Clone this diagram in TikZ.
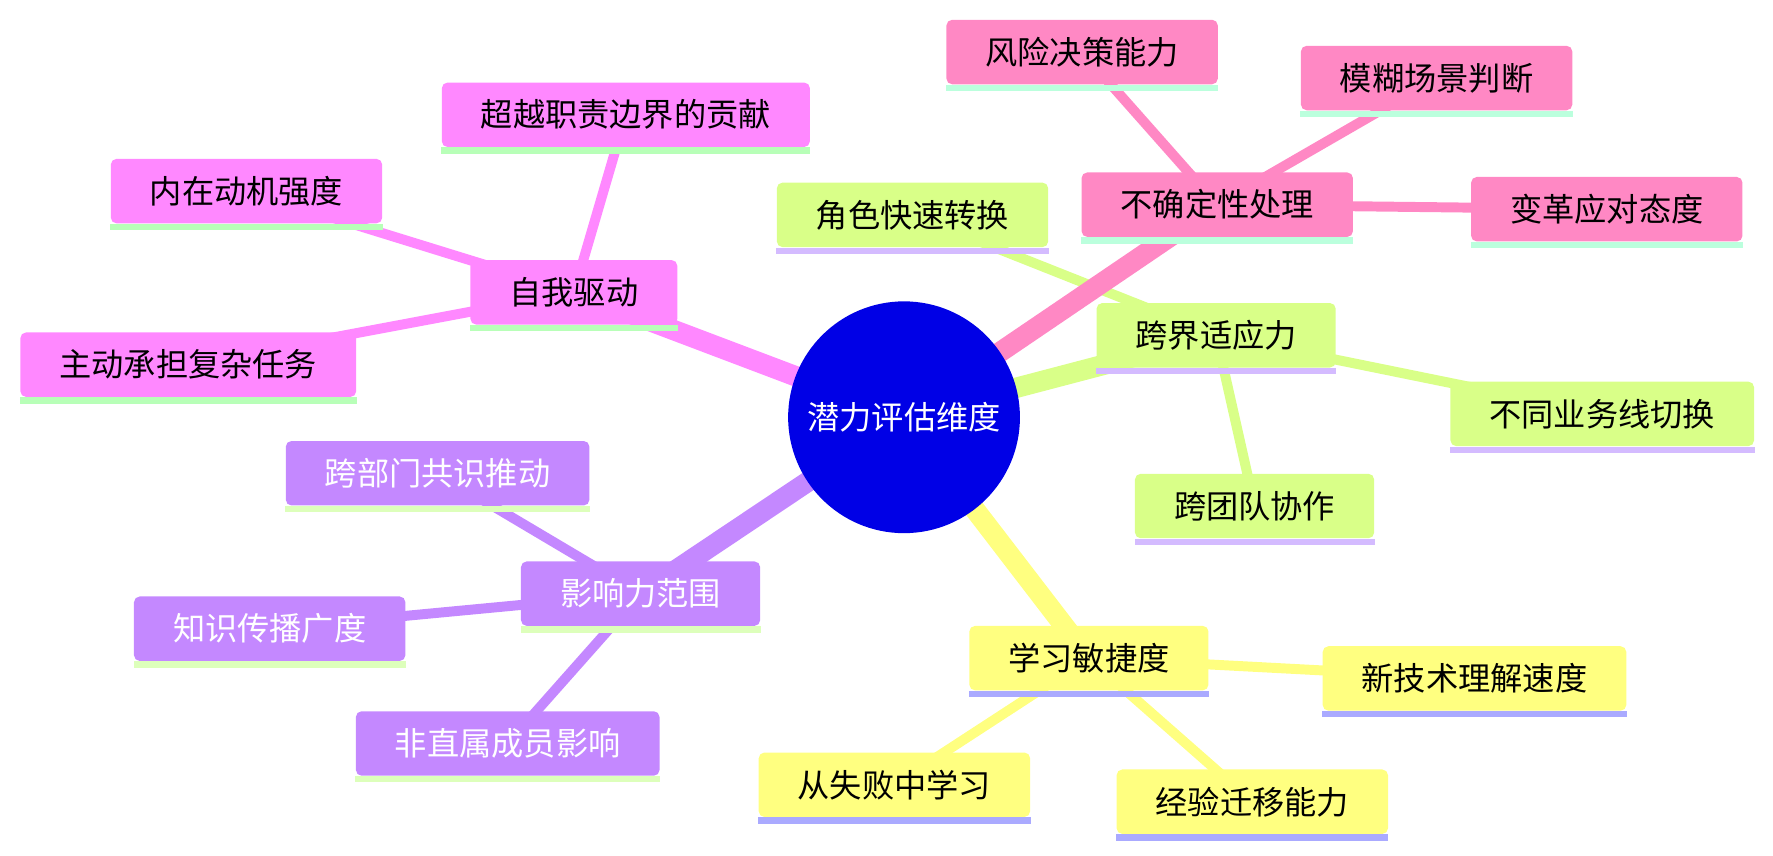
\documentclass[tikz,border=0pt]{standalone}
\usepackage{fontspec}
\newfontfamily\cjk{Noto Sans CJK SC}
\usetikzlibrary{backgrounds}
\definecolor{rootblue}{HTML}{0000E6}
\definecolor{selfpink}{HTML}{FF88FF}
\definecolor{riskrose}{HTML}{FF88C4}
\definecolor{adaptlime}{HTML}{D9FF88}
\definecolor{learnyellow}{HTML}{FFFF80}
\definecolor{influpurple}{HTML}{C488FF}
\definecolor{selfline}{HTML}{B8FFB8}
\definecolor{riskline}{HTML}{BBFFDD}
\definecolor{adaptline}{HTML}{D4BBFF}
\definecolor{learnline}{HTML}{AAAAFF}
\definecolor{influline}{HTML}{DDFFBB}

\begin{document}
\begin{tikzpicture}[x=0.5pt, y=-0.5pt,
        every node/.style={font=\cjk\fontsize{14.25}{17}\selectfont},
        root/.style={circle, fill=rootblue, text=white, minimum size=102.5pt, inner sep=0pt},
        topic/.style={rounded corners=2.5pt, minimum height=28.5pt, inner xsep=17.25pt, inner ysep=0pt},
        trunk/.style={line width=9pt},
        twig/.style={line width=4.4pt}]
        \useasboundingbox (0,0) rectangle (1568,757);

        \node[root] (root) at (799.5,369) {潜力评估维度};

        % 自我驱动
        \node[topic, fill=selfpink] (self) at (507.5,258.5) {自我驱动};
        \node[topic, fill=selfpink] (beyond) at (553.5,101.5) {超越职责边界的贡献};
        \node[topic, fill=selfpink] (motive) at (218,169) {内在动机强度};
        \node[topic, fill=selfpink] (task) at (166.5,322.5) {主动承担复杂任务};

        % 不确定性处理
        \node[topic, fill=riskrose] (risk) at (1076.5,181) {不确定性处理};
        \node[topic, fill=riskrose] (decide) at (957,46) {风险决策能力};
        \node[topic, fill=riskrose] (vague) at (1270.5,69) {模糊场景判断};
        \node[topic, fill=riskrose] (change) at (1421,185) {变革应对态度};

        % 跨界适应力
        \node[topic, fill=adaptlime] (adapt) at (1075.5,296.5) {跨界适应力};
        \node[topic, fill=adaptlime] (role) at (807,190) {角色快速转换};
        \node[topic, fill=adaptlime] (biz) at (1417,366) {不同业务线切换};
        \node[topic, fill=adaptlime] (team) at (1109.5,447.5) {跨团队协作};

        % 学习敏捷度
        \node[topic, fill=learnyellow] (learn) at (963,582) {学习敏捷度};
        \node[topic, fill=learnyellow] (tech) at (1304,600) {新技术理解速度};
        \node[topic, fill=learnyellow] (fail) at (791,694) {从失败中学习};
        \node[topic, fill=learnyellow] (transfer) at (1107.5,709) {经验迁移能力};

        % 影响力范围
        \node[topic, fill=influpurple, text=white] (influ) at (566.5,525) {影响力范围};
        \node[topic, fill=influpurple, text=white] (consensus) at (387,418.5) {跨部门共识推动};
        \node[topic, fill=influpurple, text=white] (spread) at (238.5,556) {知识传播广度};
        \node[topic, fill=influpurple, text=white] (indirect) at (449,657.5) {非直属成员影响};

        % underlines
        \foreach \n/\c in {self/selfline, beyond/selfline, motive/selfline, task/selfline,
                risk/riskline, decide/riskline, vague/riskline, change/riskline,
                adapt/adaptline, role/adaptline, biz/adaptline, team/adaptline,
                learn/learnline, tech/learnline, fail/learnline, transfer/learnline,
                influ/influline, consensus/influline, spread/influline, indirect/influline}
            \fill[\c] (\n.south west) rectangle ([yshift=-2.75pt]\n.south east);

        \begin{scope}[on background layer]
        \path (self.center) edge[twig, selfpink] (beyond.center);
        \path (self.center) edge[twig, selfpink] (motive.center);
        \path (self.center) edge[twig, selfpink] (task.center);
        \path (risk.center) edge[twig, riskrose] (decide.center);
        \path (risk.center) edge[twig, riskrose] (vague.center);
        \path (risk.center) edge[twig, riskrose] (change.center);
        \path (adapt.center) edge[twig, adaptlime] (role.center);
        \path (adapt.center) edge[twig, adaptlime] (biz.center);
        \path (adapt.center) edge[twig, adaptlime] (team.center);
        \path (learn.center) edge[twig, learnyellow] (tech.center);
        \path (learn.center) edge[twig, learnyellow] (fail.center);
        \path (learn.center) edge[twig, learnyellow] (transfer.center);
        \path (influ.center) edge[twig, influpurple] (consensus.center);
        \path (influ.center) edge[twig, influpurple] (spread.center);
        \path (influ.center) edge[twig, influpurple] (indirect.center);

        \path (root.center) edge[trunk, selfpink] (self.center);
        \path (root.center) edge[trunk, riskrose] (risk.center);
        \path (root.center) edge[trunk, adaptlime] (adapt.center);
        \path (root.center) edge[trunk, learnyellow] (learn.center);
        \path (root.center) edge[trunk, influpurple] (influ.center);
        \end{scope}
\end{tikzpicture}
\end{document}
